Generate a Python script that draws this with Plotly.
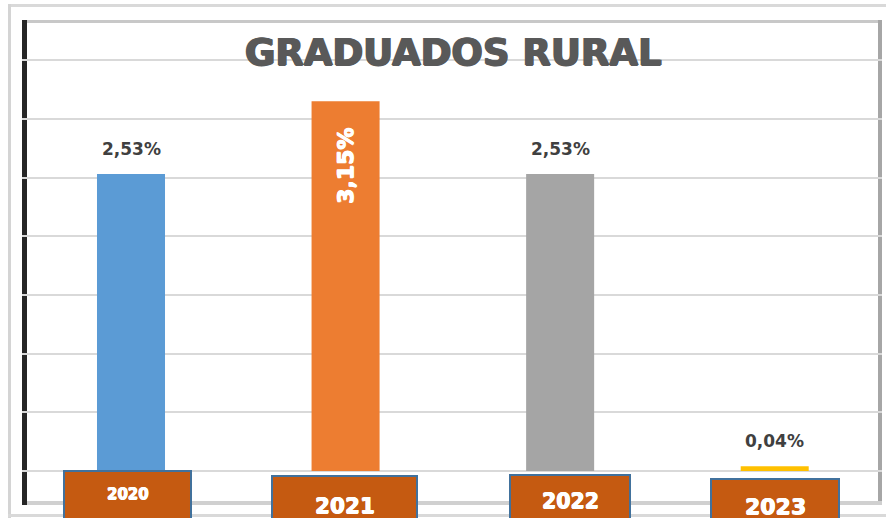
import plotly.graph_objects as go

# ---- data ----
years = ["2020", "2021", "2022", "2023"]
values = [2.53, 3.15, 2.53, 0.04]
value_labels = ["2,53%", "3,15%", "2,53%", "0,04%"]
bar_colors = ["#5B9BD5", "#ED7D31", "#A5A5A5", "#FFC000"]
title_text = "GRADUADOS RURAL"

# ---- layout geometry (pixels) ----
W, H = 886, 518
L, R = 22, 882          # plot area left/right
T, B = 22, 471          # plot area top / zero baseline
YMAX = 3.825


def PX(px):
    return (px - L) / (R - L)


def PY(py):
    return (B - py) / (B - T)


def heavy(color, d=0.7):
    return f"{d}px 0 0 {color}, -{d}px 0 0 {color}, 0 {d}px 0 {color}"


fig = go.Figure()

for i, (yr, v, c) in enumerate(zip(years, values, bar_colors)):
    fig.add_trace(go.Bar(x=[i], y=[v], width=0.317, marker=dict(color=c, line=dict(width=0)),
                         name=yr, showlegend=False, hoverinfo="skip"))

shapes = []


def rect(x0, y0, x1, y1, fill, layer="below", line=None):
    d = dict(type="rect", xref="paper", yref="paper", x0=PX(x0), x1=PX(x1), y0=PY(y1), y1=PY(y0),
             fillcolor=fill, layer=layer, line=line or dict(width=0))
    shapes.append(d)


# outer frame
rect(8, 4, 886, 7, "#D9D9D9")
rect(8, 4, 11, 518, "#D4D4D4")
rect(8, 514, 886, 517, "#D9D9D9")
# inner frame
rect(22, 20, 882, 23, "#C8C8C8")
rect(878, 20, 882, 503, "#A6A6A6")
rect(22, 501, 882, 505, "#D0D0D0")
rect(22, 20, 27, 505, "#262626")

# category label boxes (pixel geometry, styling)
box_geom = [(64, 471, 191), (272, 476, 417), (510, 475, 630), (711, 479, 839)]
box_font = [15, 21.5, 20.5, 22]
box_text_y = [494, 505, 501, 506]
for (x0, y0, x1) in box_geom:
    rect(x0, y0, x1, 530, "#C55A11", layer="above", line=dict(color="#41719C", width=2))

annotations = []
for i, (yr, (x0, y0, x1)) in enumerate(zip(years, box_geom)):
    annotations.append(dict(xref="paper", yref="paper", x=PX((x0 + x1) / 2), y=PY(box_text_y[i]),
                            text=f"<b>{yr}</b>", showarrow=False, xanchor="center", yanchor="middle",
                            font=dict(family="DejaVu Sans", size=box_font[i], color="white",
                                      shadow=heavy("white", 0.5))))

# value labels
for i, (v, lab) in enumerate(zip(values, value_labels)):
    if i == 1:
        annotations.append(dict(x=i, y=v, xref="x", yref="y", text=f"<b>{lab}</b>", showarrow=False,
                                textangle=-90, xanchor="center", yanchor="middle", yshift=-65,
                                font=dict(family="DejaVu Sans", size=22, color="white",
                                          shadow=heavy("white", 0.6))))
    else:
        annotations.append(dict(x=i, y=v, xref="x", yref="y", text=f"<b>{lab}</b>", showarrow=False,
                                xanchor="center", yanchor="middle", yshift=25,
                                font=dict(family="DejaVu Sans", size=17, color="#404040")))

# title
annotations.append(dict(xref="paper", yref="paper", x=PX(453), y=PY(52), text=f"<b>{title_text}</b>",
                        showarrow=False, xanchor="center", yanchor="middle",
                        font=dict(family="DejaVu Sans", size=37, color="#595959",
                                  shadow=heavy("#595959", 0.9))))

fig.update_layout(
    width=W, height=H,
    margin=dict(l=L, r=W - R, t=T, b=H - B, pad=0),
    paper_bgcolor="white", plot_bgcolor="rgba(0,0,0,0)",
    barmode="overlay",
    xaxis=dict(range=[-0.508, 3.5], showgrid=False, zeroline=False, showticklabels=False,
               ticks="", showline=False, fixedrange=True),
    yaxis=dict(range=[0, YMAX], dtick=0.5, tick0=0, showgrid=True, gridcolor="#D9D9D9", gridwidth=1.5,
               zeroline=True, zerolinecolor="#D9D9D9", zerolinewidth=1.5,
               showticklabels=False, ticks="", showline=False, fixedrange=True),
    shapes=shapes,
    annotations=annotations,
)

fig.write_html("out.html", config={"displayModeBar": False},
               post_script="document.body.style.margin='0';document.body.style.padding='0';"
                           "document.body.style.overflow='hidden';")
